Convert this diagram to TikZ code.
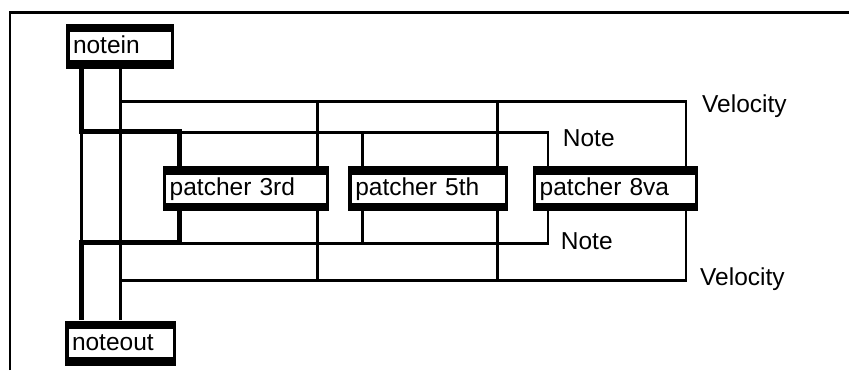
\documentclass[tikz,border=0pt]{standalone}
\usepackage{fontspec}
\setmainfont{Liberation Sans}
\begin{document}
\begin{tikzpicture}[x=1pt,y=-1pt,
  every node/.style={font=\fontsize{24.5}{28}\selectfont},
  wire/.style={line width=2.6pt},
  thickwire/.style={line width=5pt},
  frameline/.style={line width=2.8pt},
  maxbox/.style={rectangle, fill=black, inner xsep=7pt, inner ysep=0pt,
    text width=#1, align=left, minimum height=45pt,
    text height=18pt, text depth=4pt,
    path picture={\fill[white]
      ([xshift=3.5pt,yshift=8.5pt]path picture bounding box.south west) rectangle
      ([xshift=-3.5pt,yshift=-8.5pt]path picture bounding box.north east);}},
  lbl/.style={anchor=base west, inner sep=0pt}]
\useasboundingbox (0,0) rectangle (849,370);

% frame
\draw[frameline] (10,370) -- (10,12.7) -- (849,12.7);

% boxes
\node[maxbox=94pt]    (notein)  at (120,46)      {notein};
\node[maxbox=97pt]    (noteout) at (120.5,343)   {noteout};
\node[maxbox=152.6pt] (p3)      at (246,188.5)   {patcher 3rd};
\node[maxbox=146pt]   (p5)      at (428.3,188.5) {patcher 5th};
\node[maxbox=151.6pt] (p8)      at (615.5,188.5) {patcher 8va};

% ports
\coordinate (ni1) at ([xshift=15.5pt]notein.south west);
\coordinate (ni2) at ([xshift=54.7pt]notein.south west);
\coordinate (no1) at ([xshift=16.5pt]noteout.north west);
\coordinate (no2) at ([xshift=55.7pt]noteout.north west);
\coordinate (p3i1) at ([xshift=16.8pt]p3.north west);
\coordinate (p3i2) at ([xshift=-12pt]p3.north east);
\coordinate (p3o1) at ([xshift=16.8pt]p3.south west);
\coordinate (p3o2) at ([xshift=-12pt]p3.south east);
\coordinate (p5i1) at ([xshift=14.4pt]p5.north west);
\coordinate (p5i2) at ([xshift=-11pt]p5.north east);
\coordinate (p5o1) at ([xshift=14.4pt]p5.south west);
\coordinate (p5o2) at ([xshift=-11pt]p5.south east);
\coordinate (p8i1) at ([xshift=15.3pt]p8.north west);
\coordinate (p8i2) at ([xshift=-12.6pt]p8.north east);
\coordinate (p8o1) at ([xshift=15.3pt]p8.south west);
\coordinate (p8o2) at ([xshift=-12.6pt]p8.south east);

% rails
\coordinate (vtop)  at (0,101.7);
\coordinate (ntopk) at (0,131);
\coordinate (ntop)  at (0,132.3);
\coordinate (nbotk) at (0,242.5);
\coordinate (nbot)  at (0,243.5);
\coordinate (vbot)  at (0,280.5);

% thin wires
\draw[wire] (ni1) -- (no1);
\draw[wire] (ni2) -- (no2);
\draw[wire] (ni2 |- vtop) -| (p8i2);
\draw[wire] (p3i2 |- vtop) -- (p3i2);
\draw[wire] (p5i2 |- vtop) -- (p5i2);
\draw[wire] (p3i1 |- ntop) -| (p8i1);
\draw[wire] (p5i1 |- ntop) -- (p5i1);
\draw[wire] (p3o1 |- nbot) -| (p8o1);
\draw[wire] (p5o1 |- nbot) -- (p5o1);
\draw[wire] (no2 |- vbot) -| (p8o2);
\draw[wire] (p3o2 |- vbot) -- (p3o2);
\draw[wire] (p5o2 |- vbot) -- (p5o2);

% thick wires
\draw[thickwire] (ni1) |- (p3i1 |- ntopk) -- (p3i1);
\draw[thickwire] (p3o1) |- (no1 |- nbotk) -- (no1);

% labels
\node[lbl] (velin)  at (702,112.5) {Velocity};
\node[lbl] (notin)  at (562.7,146) {Note};
\node[lbl] (notout) at (560.7,249) {Note};
\node[lbl] (velout) at (700,285.8) {Velocity};
\end{tikzpicture}
\end{document}
